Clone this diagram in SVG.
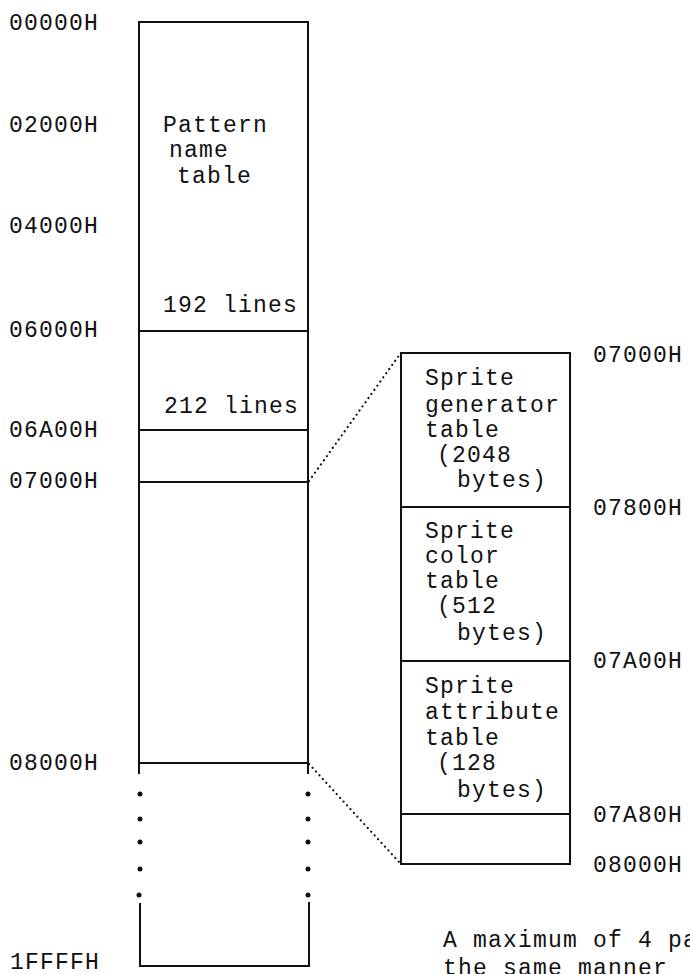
<svg xmlns="http://www.w3.org/2000/svg" width="690" height="974" viewBox="0 0 690 974">
<style>
text { font-family: "Liberation Mono", "DejaVu Sans Mono", monospace; font-size: 23px; letter-spacing: 1.2px; fill: #111; }
.ln { stroke: #111; stroke-width: 2; fill: none; stroke-linecap: square; }
.dot { fill: #111; }
.conn { stroke: #111; stroke-width: 2.2; fill: none; stroke-dasharray: 0.1 5; stroke-linecap: round; }
</style>
<rect width="690" height="974" fill="#ffffff"/>

<g id="address-labels-left">
<text x="9" y="30">00000H</text>
<text x="9" y="132">02000H</text>
<text x="9" y="233">04000H</text>
<text x="9" y="337">06000H</text>
<text x="9" y="437">06A00H</text>
<text x="9" y="488">07000H</text>
<text x="9" y="770">08000H</text>
<text x="10" y="969">1FFFFH</text>
</g>

<g id="vram-map">
<line class="ln" x1="139" y1="22" x2="308" y2="22"/>
<line class="ln" x1="139" y1="22" x2="139" y2="773"/>
<line class="ln" x1="308" y1="22" x2="308" y2="773"/>
<line class="ln" x1="139" y1="331" x2="308" y2="331"/>
<line class="ln" x1="139" y1="430" x2="308" y2="430"/>
<line class="ln" x1="139" y1="482" x2="308" y2="482"/>
<line class="ln" x1="139" y1="763" x2="308" y2="763"/>
<circle class="dot" cx="140" cy="794" r="2.5"/>
<circle class="dot" cx="140" cy="819" r="2.5"/>
<circle class="dot" cx="140" cy="842" r="2.5"/>
<circle class="dot" cx="140" cy="869" r="2.5"/>
<circle class="dot" cx="139" cy="895" r="2.5"/>
<circle class="dot" cx="308" cy="794" r="2.5"/>
<circle class="dot" cx="308" cy="819" r="2.5"/>
<circle class="dot" cx="308" cy="842" r="2.5"/>
<circle class="dot" cx="308" cy="869" r="2.5"/>
<circle class="dot" cx="308" cy="895" r="2.5"/>
<polyline class="ln" points="140,904 140,966 309,966 309,903"/>
<text x="163" y="132">Pattern</text>
<text x="169" y="157">name</text>
<text x="177" y="183">table</text>
<text x="163" y="312">192 lines</text>
<text x="164" y="413">212 lines</text>
</g>

<g id="sprite-area">
<rect class="ln" x="401" y="353" width="169" height="511"/>
<line class="ln" x1="401" y1="507" x2="570" y2="507"/>
<line class="ln" x1="401" y1="661" x2="570" y2="661"/>
<line class="ln" x1="401" y1="814" x2="570" y2="814"/>
<text x="425" y="385">Sprite</text>
<text x="425" y="412">generator</text>
<text x="425" y="437">table</text>
<text x="437" y="462">(2048</text>
<text x="457" y="487">bytes)</text>
<text x="425" y="538">Sprite</text>
<text x="425" y="563">color</text>
<text x="425" y="588">table</text>
<text x="437" y="613">(512</text>
<text x="457" y="640">bytes)</text>
<text x="425" y="693">Sprite</text>
<text x="425" y="719">attribute</text>
<text x="425" y="745">table</text>
<text x="437" y="770">(128</text>
<text x="457" y="797">bytes)</text>
</g>

<g id="address-labels-right">
<text x="593" y="362">07000H</text>
<text x="593" y="515">07800H</text>
<text x="593" y="668">07A00H</text>
<text x="593" y="822">07A80H</text>
<text x="593" y="872">08000H</text>
</g>

<g id="connectors">
<line class="conn" x1="309" y1="481" x2="400" y2="354"/>
<line class="conn" x1="309" y1="764" x2="400" y2="863"/>
</g>

<g id="note">
<text x="443" y="947">A maximum of 4 pa</text>
<text x="443" y="975">the same manner</text>
</g>
</svg>
